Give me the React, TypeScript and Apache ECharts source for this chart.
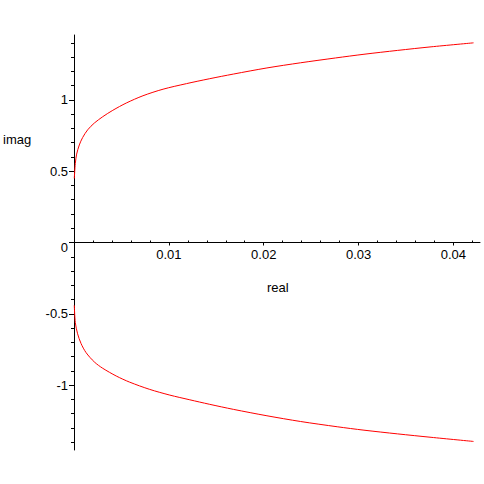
import React, { useEffect, useRef } from "react";
import * as echarts from "echarts";

const upperReal = [0.00003, 0.00014, 0.00028, 0.00056, 0.00091, 0.00144, 0.00215, 0.00303, 0.00409, 0.00551, 0.00727, 0.00939, 0.01186, 0.01426, 0.0168, 0.02034, 0.02387, 0.02757, 0.03057, 0.03411, 0.03764, 0.04212];
const upperImag = [0.449, 0.554, 0.62, 0.684, 0.736, 0.79, 0.838, 0.882, 0.927, 0.978, 1.029, 1.075, 1.114, 1.148, 1.181, 1.224, 1.26, 1.294, 1.32, 1.347, 1.372, 1.4];

const lowerReal = [0.00003, 0.00014, 0.00038, 0.00074, 0.00127, 0.00215, 0.00303, 0.00445, 0.00586, 0.00798, 0.0101, 0.01221, 0.01426, 0.0168, 0.02034, 0.02387, 0.02775, 0.03057, 0.03411, 0.03764, 0.04212];
const lowerImag = [-0.44, -0.562, -0.64, -0.708, -0.772, -0.838, -0.882, -0.936, -0.979, -1.03, -1.07, -1.103, -1.134, -1.17, -1.215, -1.255, -1.292, -1.316, -1.342, -1.366, -1.395];

const yMajorTicks = [-1, -0.5, 0, 0.5, 1];
const yMinorTicks = [-1.4, -1.3, -1.2, -1.1, -0.9, -0.8, -0.7, -0.6, -0.4, -0.3, -0.2, -0.1, 0.1, 0.2, 0.3, 0.4, 0.6, 0.7, 0.8, 0.9, 1.1, 1.2, 1.3, 1.4];
const X_MIN = 0;
const X_MAX = 0.0428;
const X_STEP = 0.01;
const Y_MIN = -1.455;
const Y_MAX = 1.455;

const xLabelFormat = (v: number) => (v === 0 ? "" : String(Number(v.toFixed(2))));
const FONT = "Liberation Sans";

export default function App() {
  const ref = useRef<HTMLDivElement>(null);
  useEffect(() => {
    if (!ref.current) return;
    const chart = echarts.init(ref.current, null, { renderer: "svg" });
    const upper = upperReal.map((x, i) => [x, upperImag[i]]);
    const lower = lowerReal.map((x, i) => [x, lowerImag[i]]);
    const H = 484;
    const top = 35;
    const bottom = 34;
    const zeroY = top + ((H - top - bottom) * Y_MAX) / (Y_MAX - Y_MIN);
    const hiddenY = (gridIndex: number) => ({ type: "value", gridIndex, show: false, min: 0, max: 1 });
    chart.setOption({
      animation: false,
      backgroundColor: "#ffffff",
      grid: [
        { left: 74, right: 4, top, bottom },
        { left: 74, right: 4, top, bottom: H - zeroY },
        { left: 74, right: 4, top: zeroY, bottom },
      ],
      xAxis: [
        { type: "value", gridIndex: 0, min: X_MIN, max: X_MAX, show: false },
        {
          type: "value",
          gridIndex: 1,
          min: X_MIN,
          max: X_MAX,
          interval: X_STEP,
          position: "bottom",
          axisLine: { show: true, onZero: false, lineStyle: { color: "#000", width: 1 } },
          axisTick: { show: true, length: 3, lineStyle: { color: "#000" } },
          axisLabel: {
            formatter: xLabelFormat,
            showMaxLabel: false,
            color: "#000",
            fontFamily: FONT,
            fontSize: 13,
            margin: 5,
          },
          splitLine: { show: false },
        },
        {
          type: "value",
          gridIndex: 2,
          min: X_MIN,
          max: X_MAX,
          interval: X_STEP,
          position: "top",
          axisLine: { show: false, onZero: false },
          axisTick: { show: false },
          minorTick: { show: true, splitNumber: 5, length: 2, lineStyle: { color: "#000" } },
          axisLabel: { show: false },
          splitLine: { show: false },
        },
      ],
      yAxis: [
        {
          type: "value",
          gridIndex: 0,
          min: Y_MIN,
          max: Y_MAX,
          position: "left",
          axisLine: { show: true, onZero: false, lineStyle: { color: "#000", width: 1 } },
          axisTick: { show: true, length: 5, customValues: yMajorTicks, lineStyle: { color: "#000" } },
          axisLabel: {
            customValues: yMajorTicks,
            formatter: (v: number) => (v === 0 ? "{z|0}" : String(v)),
            color: "#000",
            fontFamily: FONT,
            fontSize: 13,
            margin: 6,
            rich: { z: { padding: [10, 0, 0, 0], color: "#000", fontFamily: FONT, fontSize: 13 } },
          },
          splitLine: { show: false },
        },
        {
          type: "value",
          gridIndex: 0,
          min: Y_MIN,
          max: Y_MAX,
          position: "left",
          axisLine: { show: false, onZero: false },
          axisTick: { show: true, length: 3, customValues: yMinorTicks, lineStyle: { color: "#000" } },
          axisLabel: { show: false },
          splitLine: { show: false },
        },
        hiddenY(1),
        hiddenY(2),
      ],
      graphic: [
        { type: "text", left: 3, top: 133, style: { text: "imag", fill: "#000", font: `13px "${FONT}"` } },
        { type: "text", left: 267, top: 281, style: { text: "real", fill: "#000", font: `13px "${FONT}"` } },
      ],
      series: [
        {
          type: "line",
          data: upper,
          xAxisIndex: 0,
          yAxisIndex: 0,
          showSymbol: false,
          smooth: 0.3,
          lineStyle: { color: "#ff0000", width: 1 },
          itemStyle: { color: "#ff0000" },
        },
        {
          type: "line",
          data: lower,
          xAxisIndex: 0,
          yAxisIndex: 0,
          showSymbol: false,
          smooth: 0.3,
          lineStyle: { color: "#ff0000", width: 1 },
          itemStyle: { color: "#ff0000" },
        },
      ],
    });
    return () => chart.dispose();
  }, []);
  return (
    <div
      ref={ref}
      style={{ position: "fixed", left: 0, top: 0, width: 484, height: 484, background: "#fff" }}
    />
  );
}
